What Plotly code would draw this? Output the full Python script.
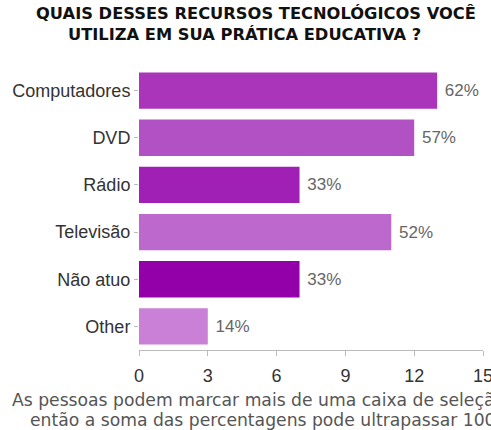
import plotly.graph_objects as go

categories = ["Computadores", "DVD", "Rádio", "Televisão", "Não atuo", "Other"]
counts = [13, 12, 7, 11, 7, 3]
percent_labels = ["62%", "57%", "33%", "52%", "33%", "14%"]
bar_colors = ["#aa35bb", "#b251c4", "#a020b6", "#bd68cd", "#9300a9", "#c980d6"]
x_ticks = [0, 3, 6, 9, 12, 15]

title_lines = ["QUAIS DESSES RECURSOS TECNOLÓGICOS VOCÊ",
               "UTILIZA EM SUA PRÁTICA EDUCATIVA ?"]
caption_lines = ["As pessoas podem marcar mais de uma caixa de seleção,",
                 "então a soma das percentagens pode ultrapassar 100%."]

FONT = "Liberation Sans, Arial, sans-serif"
WIDE = "DejaVu Sans, Liberation Sans, sans-serif"

fig = go.Figure(go.Bar(
    x=counts,
    y=categories,
    orientation="h",
    marker=dict(color=bar_colors, line=dict(width=0)),
    width=0.77,
    text=["\u00a0" + t for t in percent_labels],
    textposition="outside",
    cliponaxis=False,
    textfont=dict(family=FONT, size=17, color="#666666"),
))

W, H = 491, 430
ml, mr, mt, mb = 139, 8, 67, 80
pw, ph = W - ml - mr, H - mt - mb


def px_x(x):
    return (x - ml) / pw


def px_y(y):
    return (H - mb - y) / ph


title_html = ("<b>" + title_lines[0] + "<br>" + title_lines[1]
              + "\u00a0" * 4 + "</b>")

annotations = [dict(
    text=title_html, xref="paper", yref="paper",
    x=px_x(256), y=px_y(23.5), xanchor="center", yanchor="middle",
    align="center", showarrow=False,
    font=dict(family=WIDE, size=16.3, color="#111111"))]
for line, (lx, cy) in zip(caption_lines, [(10, 400), (28, 420)]):
    annotations.append(dict(
        text=line, xref="paper", yref="paper",
        x=px_x(lx), y=px_y(cy), xanchor="left", yanchor="middle",
        showarrow=False, font=dict(family=WIDE, size=17.2, color="#555555")))

fig.update_layout(
    width=W, height=H,
    margin=dict(l=ml, r=mr, t=mt, b=mb, pad=0, autoexpand=False),
    paper_bgcolor="white", plot_bgcolor="white",
    showlegend=False,
    font=dict(family=FONT, color="#333333"),
    xaxis=dict(
        range=[0, 15], tickvals=x_ticks, showgrid=False, zeroline=False,
        showline=True, linecolor="#bbbbbb", linewidth=1,
        ticks="outside", ticklen=5, tickcolor="#bbbbbb",
        ticklabelstandoff=4, ticklabeloverflow="allow", automargin=False,
        tickfont=dict(family=FONT, size=18, color="#333333"),
        fixedrange=True,
    ),
    yaxis=dict(
        categoryorder="array", categoryarray=categories, autorange="reversed",
        showgrid=False, zeroline=False, showline=False, automargin=False,
        ticks="outside", ticklen=4, tickcolor="#bbbbbb",
        tickfont=dict(family=FONT, size=18, color="#333333"),
        fixedrange=True,
    ),
    annotations=annotations,
)

fig.write_html("out.html")
